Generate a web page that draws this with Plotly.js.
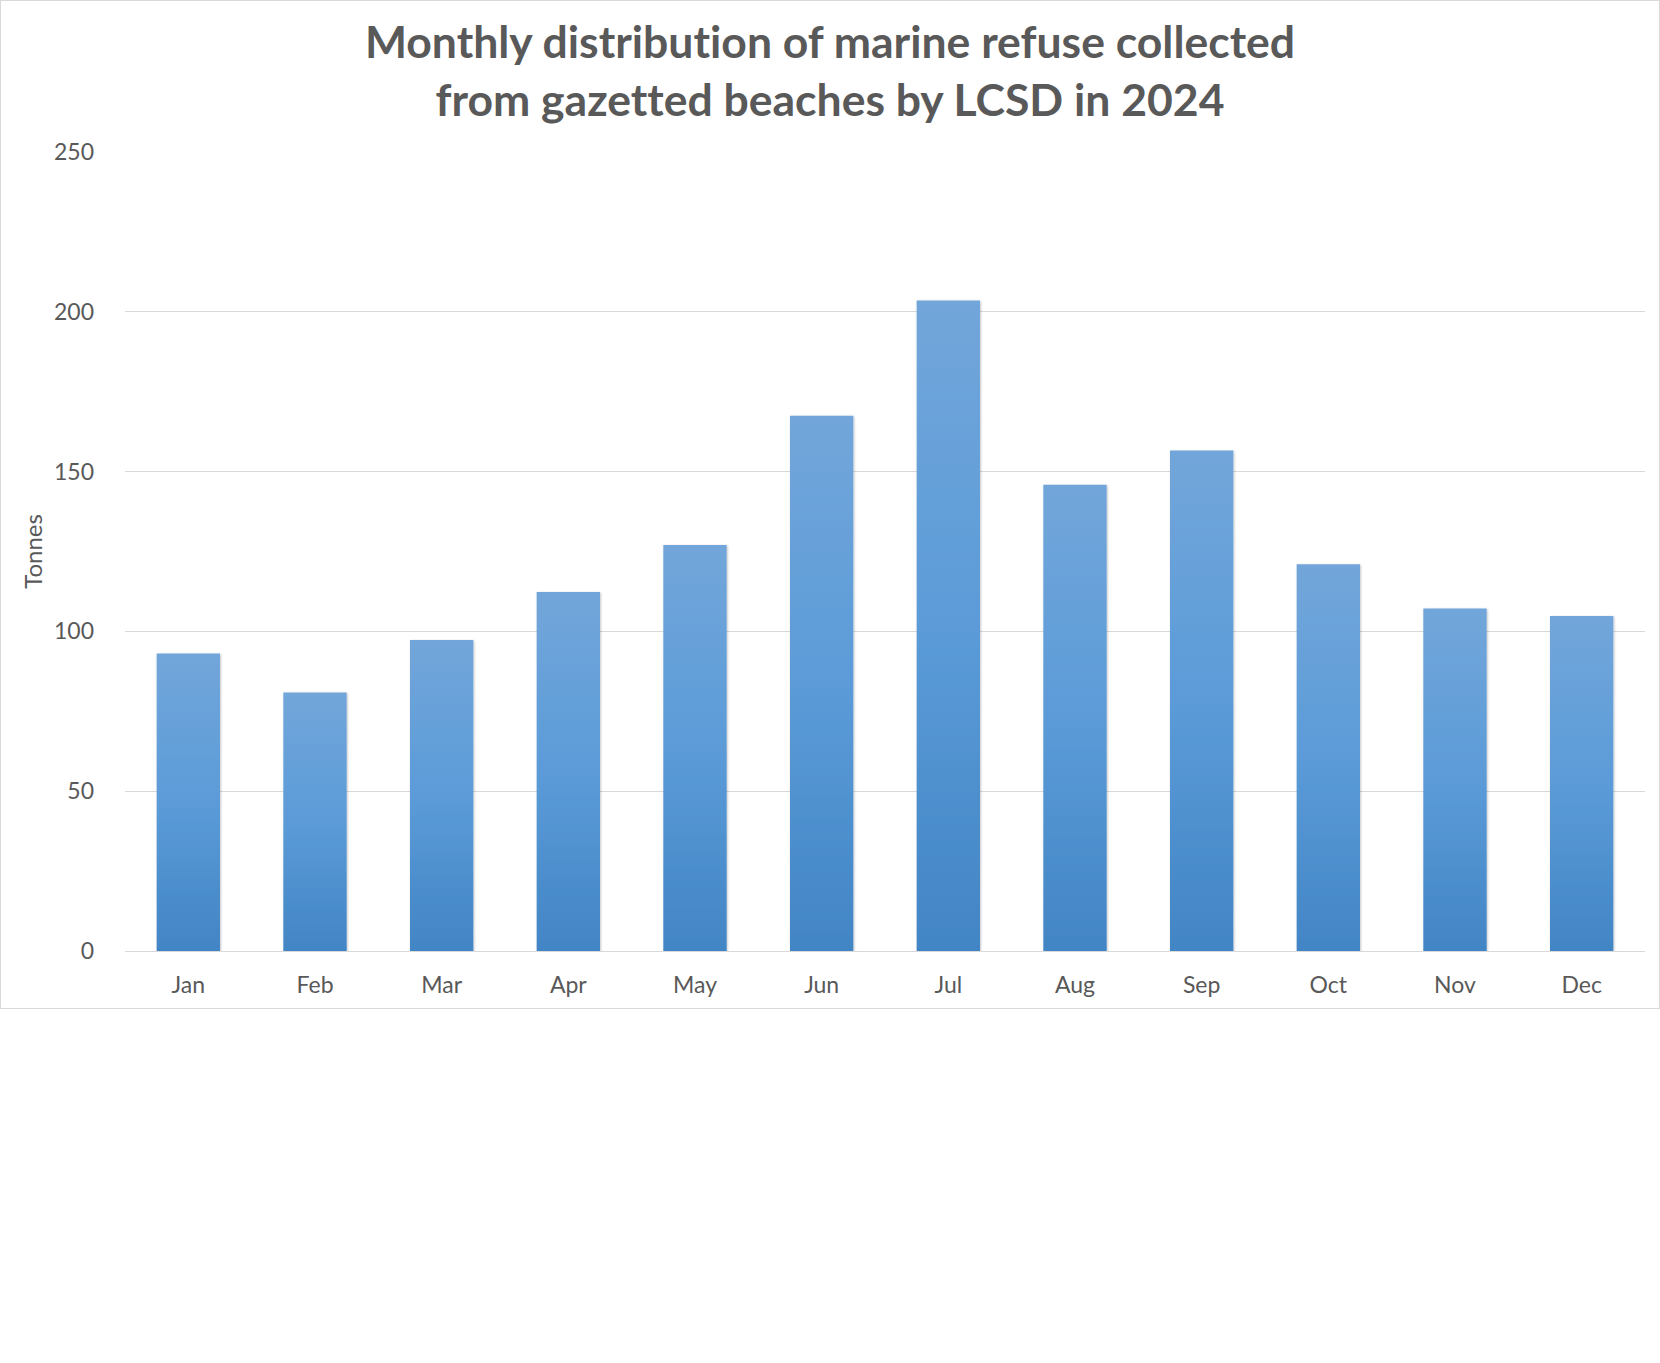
<!DOCTYPE html>
<html>
<head>
<meta charset="utf-8">
<script src="https://cdn.plot.ly/plotly-3.0.1.min.js"></script>
<style>
  html, body { margin: 0; padding: 0; background: #ffffff; width: 1660px; height: 1363px; overflow: hidden; }
  #chart { position: absolute; left: 0; top: 0; width: 1660px; height: 1009px; }
  #frame { position: absolute; left: 0; top: 0; width: 1658px; height: 1007px; border: 1px solid #d9d9d9; pointer-events: none; }
  svg text { font-variant-ligatures: none; font-feature-settings: "liga" 0, "clig" 0; }
</style>
</head>
<body>
<div id="chart"></div>
<div id="frame"></div>
<script>
// ---- data ----
const months = ["Jan", "Feb", "Mar", "Apr", "May", "Jun", "Jul", "Aug", "Sep", "Oct", "Nov", "Dec"];
const tonnes = [93.1, 80.9, 97.3, 112.3, 127.0, 167.5, 203.5, 145.9, 156.6, 121.0, 107.2, 104.8];
const yTickValues = [0, 50, 100, 150, 200, 250];
const chartTitle = "Monthly distribution of marine refuse collected<br>from gazetted beaches by LCSD in 2024";
const yAxisTitle = "Tonnes";

const FONT = "Lato, 'Open Sans', 'Liberation Sans', sans-serif";
const GREY = "#595959";

const trace = {
  type: "bar",
  x: months,
  y: tonnes,
  marker: { color: "#5b9bd5", line: { width: 0 } },
  hoverinfo: "x+y"
};

const layout = {
  width: 1660,
  height: 1009,
  margin: { l: 125, r: 15, t: 152, b: 58, pad: 0 },
  paper_bgcolor: "#ffffff",
  plot_bgcolor: "#ffffff",
  showlegend: false,
  bargap: 0.5,
  title: {
    text: chartTitle,
    font: { family: FONT, size: 44.5, color: GREY, weight: "bold" },
    x: 0.5,
    xanchor: "center",
    xref: "container",
    y: 1 - 58 / 1009,
    yref: "container",
    yanchor: "top"
  },
  xaxis: {
    type: "category",
    showgrid: false,
    showline: false,
    zeroline: false,
    ticks: "",
    ticklabelstandoff: 18,
    tickfont: { family: FONT, size: 23, color: GREY },
    fixedrange: true
  },
  yaxis: {
    range: [0, 250],
    tickvals: yTickValues,
    ticktext: yTickValues.map(String),
    showgrid: true,
    gridcolor: "#d9d9d9",
    gridwidth: 1,
    zeroline: true,
    zerolinecolor: "#d9d9d9",
    zerolinewidth: 1,
    showline: false,
    ticks: "",
    ticklabelstandoff: 30,
    tickfont: { family: FONT, size: 23, color: GREY },
    title: {
      text: yAxisTitle,
      font: { family: FONT, size: 24, color: GREY },
      standoff: 4
    },
    automargin: false,
    fixedrange: true
  }
};

Plotly.newPlot("chart", [trace], layout, { displayModeBar: false, staticPlot: true }).then(function (gd) {
  const svg = gd.querySelector("svg.main-svg");
  const ns = "http://www.w3.org/2000/svg";
  let defs = svg.querySelector("defs");
  if (!defs) { defs = document.createElementNS(ns, "defs"); svg.insertBefore(defs, svg.firstChild); }
  const grad = document.createElementNS(ns, "linearGradient");
  grad.setAttribute("id", "barGrad");
  grad.setAttribute("x1", "0"); grad.setAttribute("y1", "0");
  grad.setAttribute("x2", "0"); grad.setAttribute("y2", "1");
  [["0", "#72a6da"], ["0.5", "#5b9bd8"], ["1", "#4285c5"]].forEach(function (s) {
    const st = document.createElementNS(ns, "stop");
    st.setAttribute("offset", s[0]);
    st.setAttribute("stop-color", s[1]);
    grad.appendChild(st);
  });
  defs.appendChild(grad);
  const filt = document.createElementNS(ns, "filter");
  filt.setAttribute("id", "barShadow");
  filt.setAttribute("x", "-20%"); filt.setAttribute("y", "-5%");
  filt.setAttribute("width", "140%"); filt.setAttribute("height", "110%");
  const ds = document.createElementNS(ns, "feDropShadow");
  ds.setAttribute("dx", "0.8"); ds.setAttribute("dy", "0.8");
  ds.setAttribute("stdDeviation", "1.2");
  ds.setAttribute("flood-color", "#000000");
  ds.setAttribute("flood-opacity", "0.25");
  filt.appendChild(ds);
  defs.appendChild(filt);
  gd.querySelectorAll(".bars .point path").forEach(function (p) {
    p.style.fill = "url(#barGrad)";
    p.setAttribute("filter", "url(#barShadow)");
  });
});
</script>
</body>
</html>
